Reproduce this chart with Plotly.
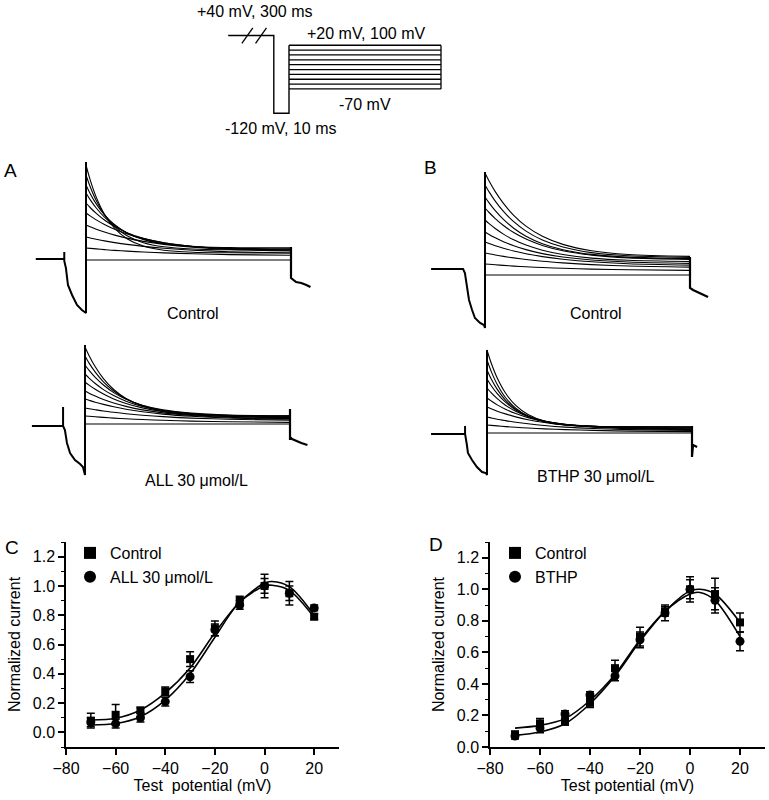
import plotly.graph_objects as go

W, H = 769, 800
FONT = "Liberation Sans, Arial, sans-serif"
INK = "#000000"

# ---------------- voltage protocol ----------------
test_potentials = [-70, -60, -50, -40, -30, -20, -10, 0, 10, 20]  # mV
cond_mV = 40
pre_mV = -120
pre_ms = 10
test_ms = 100
cond_display_ms = 30  # the 300 ms step is drawn broken

# ---------------- current traces (a.u.) ----------------
trace_t = [0, 2, 5, 9, 14, 20, 28, 38, 52, 70, 100]  # ms after test onset

a_ctrl_sweeps = [
    [-1, -1, -1, -1, -1, -1, -1, -1, -1, -1, -1],
    [11, 10.6, 10.1, 9.4, 8.6, 7.9, 7.0, 6.1, 5.2, 4.4, 3.7],
    [22, 21.0, 19.7, 18.1, 16.4, 14.6, 12.6, 10.7, 8.8, 7.3, 6.0],
    [34, 32.3, 29.8, 27.0, 23.9, 20.9, 17.6, 14.6, 11.8, 9.6, 8.0],
    [46, 43.1, 39.1, 34.5, 29.7, 25.1, 20.4, 16.3, 12.8, 10.3, 8.7],
    [56, 51.5, 45.6, 39.0, 32.4, 26.3, 20.6, 16.1, 12.5, 10.4, 9.3],
    [66, 59.4, 51.0, 41.9, 33.4, 26.1, 19.7, 15.2, 12.2, 10.7, 10.1],
    [74, 65.6, 55.1, 44.1, 34.2, 26.1, 19.5, 15.2, 12.5, 11.4, 11.1],
    [84, 72.5, 58.4, 44.4, 32.3, 23.2, 16.3, 12.2, 10.0, 9.2, 9.0],
    [94, 79.4, 61.9, 44.8, 30.6, 20.3, 12.9, 8.8, 6.8, 6.2, 6.0],
]
a_ctrl_pre_t = [-24.5, -10.6, -10.6, -10.6, -9.8, -8.8, -6.8, -4.4, -2.0, -0.4, 0, 0]
a_ctrl_pre_i = [0, 0, 7, -2, -9, -26, -36, -46, -51, -53, -54, 97]
a_ctrl_tail_t = [100, 100, 102.5, 105, 107.5, 109.5]
a_ctrl_tail_i = [12, -19, -23, -24, -26, -28]

a_all_sweeps = [
    [1, 1, 1, 1, 1, 1, 1, 1, 1, 1, 1],
    [9, 8.7, 8.2, 7.6, 6.9, 6.2, 5.5, 4.7, 3.9, 3.2, 2.6],
    [17, 16.3, 15.3, 14.0, 12.7, 11.3, 9.8, 8.4, 6.9, 5.8, 4.7],
    [26, 24.7, 22.8, 20.6, 18.2, 15.8, 13.3, 10.9, 8.7, 7.0, 5.8],
    [34, 31.8, 28.9, 25.5, 22.0, 18.6, 15.1, 12.1, 9.5, 7.7, 6.5],
    [43, 39.9, 35.7, 30.9, 26.0, 21.5, 17.1, 13.4, 10.4, 8.5, 7.4],
    [51, 46.9, 41.5, 35.4, 29.4, 23.8, 18.6, 14.5, 11.2, 9.3, 8.3],
    [60, 54.6, 47.6, 40.0, 32.4, 25.8, 19.8, 15.2, 11.9, 10.0, 9.2],
    [69, 61.9, 52.9, 43.2, 34.0, 26.2, 19.4, 14.6, 11.3, 9.8, 9.1],
    [78, 69.3, 58.2, 46.4, 35.5, 26.5, 18.9, 13.5, 10.2, 8.6, 8.1],
]
a_all_pre_t = [-25.9, -10.7, -10.7, -10.7, -9.8, -8.8, -7.3, -4.9, -2.4, -1.0, 0, 0]
a_all_pre_i = [-1, -1, 18, -1, -5, -18, -28, -35, -39, -42, -50, 80]
a_all_tail_t = [100, 100, 100, 101, 103, 105.5, 108.5]
a_all_tail_i = [16, -15, -12, -14, -16, -18, -20]

b_ctrl_sweeps = [
    [0, 0, 0, 0, 0, 0, 0, 0, 0, 0, 0],
    [11, 10.7, 10.2, 9.6, 8.9, 8.2, 7.5, 6.7, 5.9, 5.2, 4.6],
    [22, 21.2, 20.0, 18.6, 17.1, 15.5, 13.7, 12.1, 10.4, 9.0, 7.9],
    [33, 31.5, 29.3, 26.8, 24.0, 21.3, 18.4, 15.8, 13.2, 11.3, 9.9],
    [43, 40.5, 37.2, 33.3, 29.3, 25.4, 21.4, 18.0, 15.0, 13.0, 11.6],
    [55, 51.3, 46.5, 40.9, 35.2, 29.9, 24.8, 20.5, 16.9, 14.7, 13.5],
    [67, 62.5, 56.4, 49.5, 42.5, 36.0, 29.6, 24.3, 19.9, 17.1, 15.6],
    [78, 72.1, 64.3, 55.6, 46.8, 38.8, 31.3, 25.3, 20.6, 17.9, 16.4],
    [90, 83.1, 73.9, 63.6, 53.3, 43.9, 35.0, 28.0, 22.4, 19.2, 17.5],
    [102, 94.0, 83.4, 71.6, 59.7, 48.9, 38.7, 30.6, 24.2, 20.5, 18.6],
]
b_ctrl_pre_t = [-26.3, -10.7, -9.8, -8.8, -7.8, -6.3, -4.9, -2.4, -0.5, 0, 0]
b_ctrl_pre_i = [6, 6, 2, -12, -25, -35, -43, -48, -50, -53, 103]
b_ctrl_tail_t = [100, 100, 101.5, 104.9, 108.8]
b_ctrl_tail_i = [18, -13, -15, -18, -22]

b_bthp_sweeps = [
    [0, 0, 0, 0, 0, 0, 0, 0, 0, 0, 0],
    [8, 7.6, 7.1, 6.4, 5.7, 5.0, 4.1, 3.4, 2.6, 1.9, 1.4],
    [16, 15.1, 13.8, 12.4, 10.8, 9.2, 7.5, 5.9, 4.5, 3.4, 2.5],
    [26, 24.2, 21.8, 19.1, 16.1, 13.3, 10.5, 8.0, 5.9, 4.4, 3.4],
    [35, 32.1, 28.1, 23.8, 19.4, 15.4, 11.7, 8.7, 6.3, 4.9, 4.2],
    [45, 40.3, 34.3, 27.8, 21.7, 16.5, 12.0, 8.7, 6.6, 5.5, 5.1],
    [54, 47.5, 39.3, 30.8, 23.0, 16.8, 11.6, 8.2, 6.2, 5.3, 5.0],
    [63, 54.2, 43.6, 32.9, 23.7, 16.8, 11.5, 8.4, 6.7, 6.2, 6.0],
    [73, 61.9, 48.5, 35.5, 24.8, 16.9, 11.2, 8.1, 6.6, 6.1, 6.0],
    [83, 70.2, 54.9, 40.0, 27.6, 18.5, 12.0, 8.5, 6.7, 6.2, 6.0],
]
b_bthp_pre_t = [-27.3, -10.7, -10.7, -10.7, -9.8, -9.3, -7.3, -4.9, -2.4, -0.5, 0, 0]
b_bthp_pre_i = [-1, -1, 7, -1, -12, -20, -27, -34, -39, -40, -42, 83]
b_bthp_tail_t = [100, 100, 100.5, 101.5, 102.5]
b_bthp_tail_i = [7, -24, -12, -13, -14]

# ---------------- I-V data (normalized current) ----------------
c_ctrl = [0.08, 0.12, 0.15, 0.28, 0.50, 0.71, 0.90, 1.00, 0.95, 0.79]
c_ctrl_err = [0.05, 0.07, 0.02, 0.03, 0.05, 0.05, 0.03, 0.08, 0.08, 0.02]
c_all = [0.07, 0.06, 0.10, 0.21, 0.38, 0.70, 0.87, 1.00, 0.95, 0.85]
c_all_err = [0.03, 0.03, 0.03, 0.03, 0.04, 0.04, 0.03, 0.05, 0.05, 0.02]
c_fit_v = [-70, -60, -50, -40, -30, -20, -10, 0, 3, 10, 20]
c_fit_ctrl = [0.084, 0.096, 0.153, 0.27, 0.44, 0.68, 0.89, 1.02, 1.03, 0.995, 0.80]
c_fit_all = [0.05, 0.06, 0.107, 0.22, 0.40, 0.65, 0.89, 1.00, 1.005, 0.97, 0.785]

d_ctrl = [0.08, 0.15, 0.16, 0.28, 0.50, 0.70, 0.86, 1.00, 0.97, 0.79]
d_ctrl_err = [0.02, 0.03, 0.02, 0.03, 0.05, 0.06, 0.03, 0.08, 0.10, 0.06]
d_bthp = [0.07, 0.12, 0.21, 0.33, 0.45, 0.68, 0.85, 1.00, 0.93, 0.67]
d_bthp_err = [0.02, 0.03, 0.02, 0.02, 0.03, 0.05, 0.05, 0.06, 0.08, 0.06]
d_fit_v = [-70, -60, -50, -40, -30, -20, -10, 0, 4, 10, 20]
d_fit_a = [0.12, 0.137, 0.18, 0.295, 0.46, 0.68, 0.86, 0.97, 0.98, 0.93, 0.70]
d_fit_b = [0.074, 0.095, 0.147, 0.274, 0.45, 0.67, 0.86, 0.99, 1.00, 0.97, 0.79]

# =====================================================================
fig = go.Figure()
layout = dict(width=W, height=H, margin=dict(l=0, r=0, t=0, b=0, autoexpand=False),
              paper_bgcolor="white", plot_bgcolor="rgba(0,0,0,0)",
              font=dict(family=FONT, size=16, color=INK), showlegend=True)


def ax_name(kind, i):
    return kind + ("axis" if i == 1 else f"axis{i}")


def ref(kind, i):
    return kind if i == 1 else f"{kind}{i}"


def hidden_axes(i, box, x0, px_per_x, ymap):
    xL, xR, yT, yB = box
    layout[ax_name("x", i)] = dict(domain=[xL / W, xR / W],
                                   range=[(xL - x0) / px_per_x, (xR - x0) / px_per_x],
                                   visible=False, automargin=False, anchor=ref("y", i))
    layout[ax_name("y", i)] = dict(domain=[1 - yB / H, 1 - yT / H],
                                   range=[ymap(yB), ymap(yT)],
                                   visible=False, automargin=False, anchor=ref("x", i))


# ---- protocol diagram (axis 1) ----
def mv_from_px(p):
    return (70.75 - p) / 0.4857 - 32.5


hidden_axes(1, (200, 460, 18, 128), 289, 1.52, mv_from_px)
t_start = -pre_ms - cond_display_ms
proto_x = [t_start, -pre_ms, -pre_ms, 0, 0]
proto_y = [cond_mV, cond_mV, pre_mV, pre_mV, max(test_potentials)]
fig.add_trace(go.Scatter(x=proto_x, y=proto_y, mode="lines", line=dict(color=INK, width=1.4),
                         xaxis="x", yaxis="y", showlegend=False, hoverinfo="skip"))
sx, sy = [], []
for v in test_potentials:
    sx += [0, test_ms, None]
    sy += [v, v, None]
sx += [test_ms, test_ms, None]
sy += [min(test_potentials), max(test_potentials), None]
for frac in (0.42, 0.72):
    tc = t_start + frac * cond_display_ms
    sx += [tc - 3.6, tc + 3.6, None]
    sy += [cond_mV - 16, cond_mV + 16, None]
fig.add_trace(go.Scatter(x=sx, y=sy, mode="lines", line=dict(color=INK, width=1.3),
                         xaxis="x", yaxis="y", showlegend=False, hoverinfo="skip"))

# ---- current-trace panels ----
panels = [
    (2, (28, 330, 148, 322), 86, 259, a_ctrl_sweeps, a_ctrl_pre_t, a_ctrl_pre_i, a_ctrl_tail_t, a_ctrl_tail_i),
    (3, (28, 330, 328, 484), 85, 425, a_all_sweeps, a_all_pre_t, a_all_pre_i, a_all_tail_t, a_all_tail_i),
    (4, (425, 725, 155, 335), 485, 275, b_ctrl_sweeps, b_ctrl_pre_t, b_ctrl_pre_i, b_ctrl_tail_t, b_ctrl_tail_i),
    (5, (425, 725, 338, 484), 487, 433, b_bthp_sweeps, b_bthp_pre_t, b_bthp_pre_i, b_bthp_tail_t, b_bthp_tail_i),
]
for i, box, x0, base, sweeps, pre_t, pre_i, tail_t, tail_i in panels:
    hidden_axes(i, box, x0, 2.05, lambda p, b=base: b - p)
    xa, ya = ref("x", i), ref("y", i)
    fig.add_trace(go.Scatter(x=pre_t, y=pre_i, mode="lines", line=dict(color=INK, width=2),
                             xaxis=xa, yaxis=ya, showlegend=False, hoverinfo="skip"))
    for s in sweeps:
        fig.add_trace(go.Scatter(x=trace_t, y=s, mode="lines",
                                 line=dict(color=INK, width=1.1, shape="spline", smoothing=0.8),
                                 xaxis=xa, yaxis=ya, showlegend=False, hoverinfo="skip"))
    fig.add_trace(go.Scatter(x=tail_t, y=tail_i, mode="lines", line=dict(color=INK, width=2.2),
                             xaxis=xa, yaxis=ya, showlegend=False, hoverinfo="skip"))


# ---- I-V panels ----
def iv_axes(i, box, yrange, title_x):
    xL, xR, yT, yB = box
    common = dict(showline=True, linecolor=INK, linewidth=1.5, ticks="outside", ticklen=6,
                  tickwidth=1.5, tickcolor=INK, showgrid=False, zeroline=False, automargin=False,
                  tickfont=dict(size=16, family=FONT, color=INK))
    layout[ax_name("x", i)] = dict(domain=[xL / W, xR / W], range=[-80, 30], tick0=-80, dtick=20,
                                   anchor=ref("y", i),
                                   title=dict(text=title_x, standoff=4, font=dict(size=16)), **common)
    layout[ax_name("y", i)] = dict(domain=[1 - yB / H, 1 - yT / H], range=yrange, tick0=0, dtick=0.2,
                                   tickformat=".1f", anchor=ref("x", i),
                                   minor=dict(dtick=0.1, ticklen=3, tickwidth=1.2, tickcolor=INK, ticks="outside"),
                                   title=dict(text="Normalized current", standoff=8, font=dict(size=16)),
                                   **common)


iv_axes(6, (66, 339, 542, 747), [-0.1, 1.3], "Test  potential (mV)")
iv_axes(7, (490, 765, 542, 747), [0, 1.3], "Test potential (mV)")

err_style = dict(type="data", color=INK, thickness=1.5, width=4)
for i, leg, fits, fit_v, series in [
    (6, "legend", (c_fit_ctrl, c_fit_all), c_fit_v,
     [("Control", c_ctrl, c_ctrl_err, "square", 8), ("ALL 30 μmol/L", c_all, c_all_err, "circle", 9)]),
    (7, "legend2", (d_fit_a, d_fit_b), d_fit_v,
     [("Control", d_ctrl, d_ctrl_err, "square", 8), ("BTHP", d_bthp, d_bthp_err, "circle", 9)]),
]:
    xa, ya = ref("x", i), ref("y", i)
    for f in fits:
        fig.add_trace(go.Scatter(x=fit_v, y=f, mode="lines",
                                 line=dict(color=INK, width=1.6, shape="spline", smoothing=0.9),
                                 xaxis=xa, yaxis=ya, showlegend=False, hoverinfo="skip"))
    for name, vals, errs, sym, size in series:
        fig.add_trace(go.Scatter(x=test_potentials, y=vals, mode="markers", name=name,
                                 marker=dict(symbol=sym, size=size, color=INK),
                                 error_y=dict(array=errs, **err_style),
                                 xaxis=xa, yaxis=ya, legend=leg))

leg_common = dict(xanchor="left", yanchor="top", bgcolor="rgba(0,0,0,0)",
                  font=dict(size=16, family=FONT, color=INK), tracegroupgap=0,
                  itemsizing="constant")
layout["legend"] = dict(x=70 / W, y=1 - 536 / H, **leg_common)
layout["legend2"] = dict(x=495 / W, y=1 - 536 / H, **leg_common)

# ---- text ----
texts = [
    ("+40 mV, 300 ms", 255, 11, 16),
    ("+20 mV, 100 mV", 366, 33, 16),
    ("-70 mV", 365, 105, 16),
    ("-120 mV, 10 ms", 280, 128, 16),
    ("A", 10, 170, 19),
    ("B", 430, 168, 19),
    ("C", 12, 547, 19),
    ("D", 436, 544, 19),
    ("Control", 193, 313, 16),
    ("ALL 30 μmol/L", 196, 480, 16),
    ("Control", 596, 313, 16),
    ("BTHP 30 μmol/L", 596, 477, 16),
]
layout["annotations"] = [
    dict(text=t, x=x / W, y=1 - y / H, xref="paper", yref="paper", showarrow=False,
         xanchor="center", yanchor="middle", font=dict(size=s, family=FONT, color=INK))
    for t, x, y, s in texts
]

fig.update_layout(**layout)
fig.write_html("out.html", config={"displayModeBar": False},
               post_script="document.body.style.margin='0';document.body.style.padding='0';")
